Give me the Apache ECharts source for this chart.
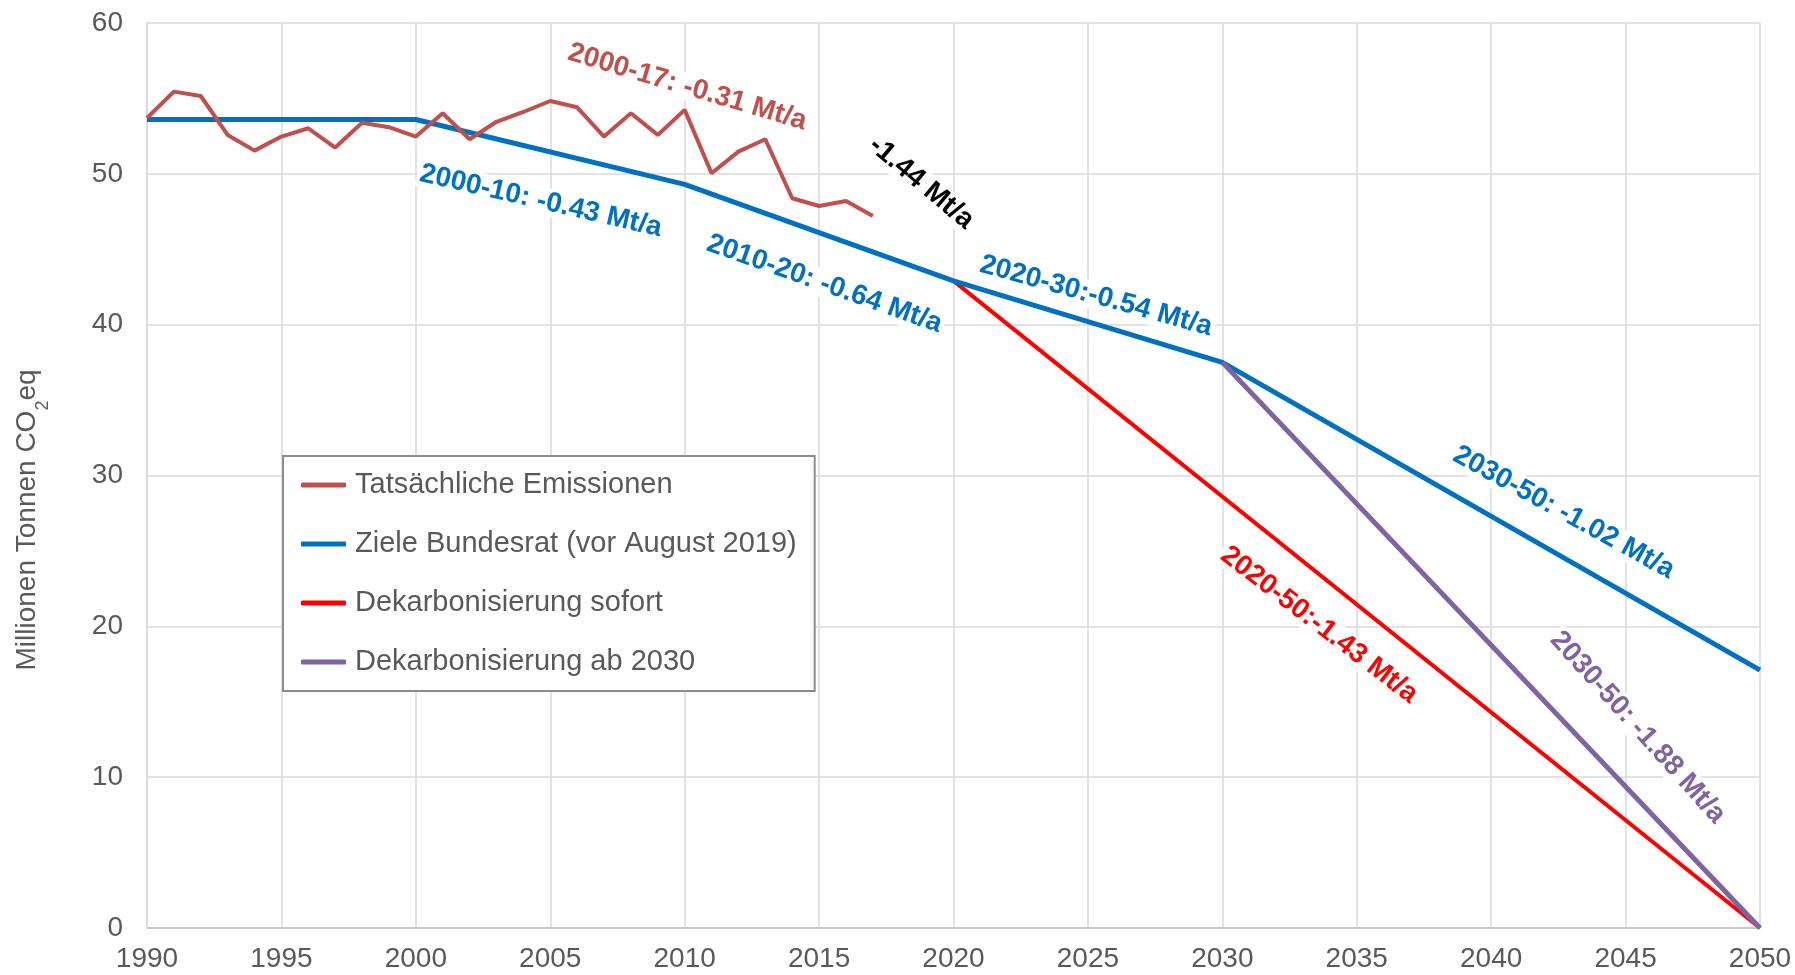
<!DOCTYPE html>
<html lang="de">
<head>
<meta charset="UTF-8">
<title>Emissionen</title>
<script src="https://cdn.jsdelivr.net/npm/echarts@6/dist/echarts.min.js"></script>
</head>
<body style="margin:0;">
<div id="chart" style="width:1795px;height:975px;"></div>
<script>
// Tatsächliche Emissionen (Mt CO2eq)
var istJahre = [1990, 1991, 1992, 1993, 1994, 1995, 1996, 1997, 1998, 1999,
    2000, 2001, 2002, 2003, 2004, 2005, 2006, 2007, 2008, 2009,
    2010, 2011, 2012, 2013, 2014, 2015, 2016, 2017];
var istWerte = [53.7, 55.45, 55.16, 52.58, 51.54, 52.47, 53.02, 51.74, 53.39, 53.09,
    52.47, 54.02, 52.29, 53.45, 54.1, 54.83, 54.41, 52.47, 54.02, 52.58,
    54.24, 50.04, 51.47, 52.29, 48.38, 47.87, 48.2, 47.21];

// Ziele Bundesrat (vor August 2019)
var zielJahre = [1990, 2000, 2010, 2020, 2030, 2050];
var zielWerte = [53.6, 53.6, 49.3, 42.9, 37.5, 17.1];

// Dekarbonisierung sofort
var sofortJahre = [2020, 2050];
var sofortWerte = [42.9, 0];

// Dekarbonisierung ab 2030
var ab2030Jahre = [2030, 2050];
var ab2030Werte = [37.5, 0];

var serienNamen = ['Tatsächliche Emissionen', 'Ziele Bundesrat (vor August 2019)',
    'Dekarbonisierung sofort', 'Dekarbonisierung ab 2030'];

// Beschriftungen an den Linien
var notizText = ['2000-17: -0.31 Mt/a', '-1.44 Mt/a', '2000-10: -0.43 Mt/a', '2010-20: -0.64 Mt/a',
    '2020-30:-0.54 Mt/a', '2030-50: -1.02 Mt/a', '2020-50:-1.43 Mt/a', '2030-50: -1.88 Mt/a'];
var notizJahr = [2010.1, 2018.8, 2004.65, 2015.2, 2025.3, 2042.7, 2033.6, 2045.45];
var notizWert = [55.75, 49.4, 48.2, 42.7, 41.9, 27.55, 20.1, 13.3];
var notizWinkel = [-16.5, -40, -13, -19.5, -15.5, -28.7, -37.4, -48];
var notizFarbe = ['#C0504D', '#000000', '#0070C0', '#0070C0', '#0070C0', '#0070C0', '#FF0000', '#8064A2'];

var FONT = '"Liberation Sans", Arial, sans-serif';

function paare(xs, ys) {
    return xs.map(function (x, i) { return [x, ys[i]]; });
}

var notizDaten = notizText.map(function (t, i) {
    return {
        value: [notizJahr[i], notizWert[i]],
        label: {
            formatter: t,
            rotate: notizWinkel[i],
            color: notizFarbe[i]
        }
    };
});

var chart = echarts.init(document.getElementById('chart'));

var option = {
    animation: false,
    backgroundColor: '#fff',
    grid: { left: 147, right: 35, top: 23, bottom: 47 },
    xAxis: {
        type: 'value',
        min: 1990,
        max: 2050,
        interval: 5,
        axisLine: { show: true, lineStyle: { color: '#bfbfbf', width: 1.5 } },
        axisTick: { show: false },
        splitLine: { show: true, lineStyle: { color: '#d9d9d9', width: 1.5 } },
        axisLabel: {
            fontSize: 28, color: '#595959', fontFamily: FONT, margin: 17,
            formatter: function (v) { return String(v); }
        }
    },
    yAxis: {
        type: 'value',
        min: 0,
        max: 60,
        interval: 10,
        axisLine: { show: true, lineStyle: { color: '#d9d9d9', width: 1.5 } },
        axisTick: { show: false },
        splitLine: { show: true, lineStyle: { color: '#d9d9d9', width: 1.5 } },
        axisLabel: { fontSize: 28, color: '#595959', fontFamily: FONT, margin: 24 }
    },
    legend: {
        data: serienNamen,
        orient: 'vertical',
        left: 283,
        top: 456,
        padding: [14, 18, 14, 18],
        backgroundColor: '#fff',
        borderColor: '#8c8c8c',
        borderWidth: 2,
        itemGap: 29,
        itemWidth: 45,
        itemHeight: 5,
        icon: 'roundRect',
        selectedMode: false,
        textStyle: { fontSize: 29, lineHeight: 30, color: '#595959', fontFamily: FONT, padding: [0, 0, 0, 4] },
        z: 10
    },
    graphic: [{
        type: 'text',
        x: 27,
        y: 520,
        rotation: Math.PI / 2,
        style: {
            text: '{a|Millionen Tonnen CO}{b|2}{a|eq}',
            align: 'center',
            verticalAlign: 'middle',
            rich: {
                a: { fontSize: 28, fontFamily: FONT, fill: '#595959', lineHeight: 30, verticalAlign: 'middle' },
                b: { fontSize: 18, fontFamily: FONT, fill: '#595959', lineHeight: 30, verticalAlign: 'bottom', padding: [0, 0, -10, 0] }
            }
        }
    }],
    series: [
        {
            name: serienNamen[0], type: 'line', data: paare(istJahre, istWerte),
            showSymbol: false, symbol: 'none', color: '#C0504D',
            lineStyle: { width: 4, color: '#C0504D' }, z: 4
        },
        {
            name: serienNamen[1], type: 'line', data: paare(zielJahre, zielWerte),
            showSymbol: false, symbol: 'none', color: '#0070C0',
            lineStyle: { width: 5, color: '#0070C0' }, z: 3
        },
        {
            name: serienNamen[2], type: 'line', data: paare(sofortJahre, sofortWerte),
            showSymbol: false, symbol: 'none', color: '#FF0000',
            lineStyle: { width: 4, color: '#FF0000' }, z: 2
        },
        {
            name: serienNamen[3], type: 'line', data: paare(ab2030Jahre, ab2030Werte),
            showSymbol: false, symbol: 'none', color: '#8064A2',
            lineStyle: { width: 5, color: '#8064A2' }, z: 3
        },
        {
            name: 'notizen', type: 'scatter', data: notizDaten,
            symbolSize: 1, itemStyle: { color: 'rgba(0,0,0,0)', opacity: 1 },
            silent: true, z: 6,
            label: {
                show: true,
                position: 'inside',
                fontSize: 28,
                fontWeight: 'bold',
                fontFamily: FONT,
                backgroundColor: '#fff',
                opacity: 1,
                padding: [0, 3]
            }
        }
    ]
};

chart.setOption(option);
</script>
</body>
</html>
